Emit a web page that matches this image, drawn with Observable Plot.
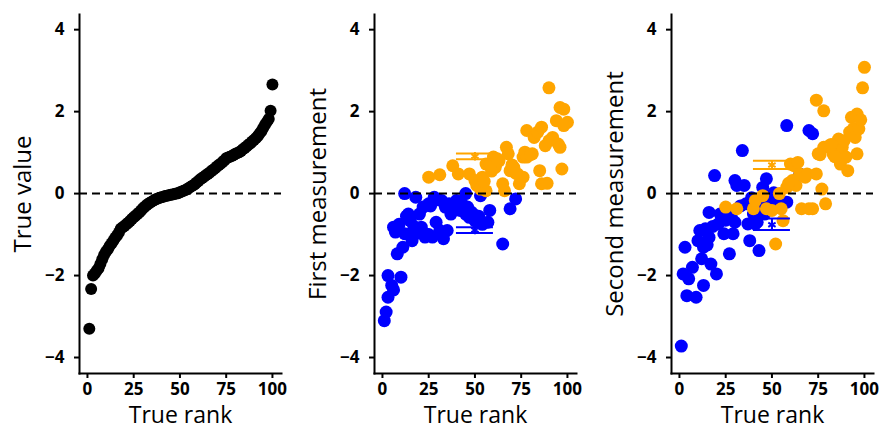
<!DOCTYPE html>
<html><head><meta charset="utf-8">
<script src="https://cdn.jsdelivr.net/npm/d3@7"></script>
<script src="https://cdn.jsdelivr.net/npm/@observablehq/plot@0.6"></script>
<style>
body{margin:0;background:#fff;}
#wrap{display:flex;width:882px;height:429px;overflow:hidden;}
</style></head><body><div id="wrap"></div>
<script>
// Panel 1: sorted true values, rank 1..100
const trueValues = [-3.30,-2.33,-2.00,-1.95,-1.88,-1.82,-1.72,-1.60,-1.50,-1.42,
 -1.36,-1.28,-1.22,-1.15,-1.08,-1.02,-0.95,-0.86,-0.82,-0.79,
 -0.75,-0.71,-0.67,-0.62,-0.58,-0.54,-0.50,-0.46,-0.41,-0.36,
 -0.32,-0.28,-0.25,-0.22,-0.19,-0.16,-0.14,-0.12,-0.10,-0.09,
 -0.08,-0.06,-0.05,-0.04,-0.03,-0.02,-0.01,0.00,0.01,0.03,
 0.05,0.07,0.09,0.11,0.14,0.17,0.20,0.23,0.27,0.31,
 0.35,0.38,0.41,0.45,0.48,0.51,0.55,0.58,0.62,0.66,
 0.70,0.73,0.77,0.81,0.86,0.88,0.90,0.92,0.94,0.97,
 0.99,1.01,1.04,1.08,1.11,1.15,1.19,1.22,1.27,1.31,
 1.35,1.40,1.46,1.52,1.60,1.68,1.75,1.82,2.02,2.66];

// Panel 2: first measurement, [rank, value]
const firstBlue = [[1,-3.10],[2,-2.89],[3,-2.53],[3,-2.0],[5,-2.24],[6,-2.35],[10,-2.04],[8,-1.47],[11,-1.31],[6,-0.82],
 [7,-0.94],[8,-0.90],[12,0.0],[14,-0.50],[15,-0.66],[12,-0.98],[15,-0.98],[16,-1.15],[18,-0.98],[18,-0.09],
 [20,-0.50],[22,-0.33],[21,-0.82],[23,-1.06],[25,-1.0],[25,-0.25],[28,-0.09],[27,-1.06],[29,-0.70],[31,-0.90],
 [33,-1.10],[32,-0.17],[34,-0.33],[36,-0.25],[37,-0.50],[39,-0.29],[40,-0.17],[42,-0.41],[43,-0.25],[45,0.0],
 [45,-0.50],[46,-0.33],[47,-0.58],[49,-0.50],[50,-0.66],[53,-0.05],[57,-0.70],[58,-0.41],[65,-1.23],[69,-0.37],
 [72,-0.13],[44,-0.40],[48,-0.45],[38,-0.40],[30,-0.15],[26,-0.30],[9,-0.75],[13,-0.55],[17,-0.80],[19,-0.85],
 [24,-1.00],[35,-0.90],[52,-0.55],[54,-0.75]];
const firstOrange = [[25,0.40],[31,0.46],[38,0.68],[41,0.48],[47,0.48],[50,0.32],[51,0.20],[54,0.40],[56,0.72],[53,0.11],
 [56,0.07],[58,0.72],[60,0.89],[61,0.64],[63,0.80],[65,0.24],[66,0.07],[67,1.13],[68,0.97],[69,0.56],
 [71,0.64],[73,0.48],[74,0.24],[76,0.40],[76,0.89],[77,1.01],[78,0.89],[81,0.97],[78,1.54],[82,1.37],
 [84,1.50],[85,0.56],[86,1.62],[86,0.24],[89,0.25],[88,1.17],[90,1.29],[90,2.58],[92,1.37],[94,1.78],
 [95,1.21],[96,2.10],[97,0.60],[98,2.06],[100,1.74],[98,1.66],[96,1.13],[55,0.30],[59,0.55],[62,0.85],
 [70,0.70],[72,0.50],[80,0.95]];

// Panel 3: second measurement, [rank, value]
const secondBlue = [[1,-3.72],[3,-1.31],[2,-1.96],[4,-2.49],[5,-2.08],[7,-1.80],[9,-2.53],[10,-1.15],[12,-1.59],[13,-1.31],
 [13,-2.24],[14,-0.86],[16,-1.07],[16,-0.46],[17,-1.72],[19,0.44],[20,-1.96],[21,-0.74],[22,-0.50],[24,-0.98],
 [27,-1.47],[28,-0.58],[29,-0.98],[30,-0.70],[30,0.32],[31,0.20],[34,1.05],[35,0.20],[36,-0.25],[37,-0.74],
 [38,-1.15],[40,-0.50],[41,-0.74],[43,-1.39],[45,0.15],[47,0.36],[48,-0.17],[51,0.02],[53,-0.25],[58,-0.21],
 [58,1.66],[65,0.48],[70,1.54],[72,1.46],[18,-0.80],[23,-0.60],[26,-0.40],[33,-0.30],[39,-0.10],[42,-0.70],
 [44,-0.30],[46,-0.50],[50,-0.35],[25,-0.65],[11,-0.90],[15,-1.25]];
const secondOrange = [[25,-0.33],[31,-0.37],[40,-0.37],[41,-0.17],[47,-0.37],[50,-0.41],[52,-1.23],[54,0.0],[55,-0.37],[56,-0.66],
 [58,0.15],[60,0.72],[61,0.32],[62,0.68],[64,0.76],[63,0.20],[65,0.48],[66,-0.37],[68,0.40],[69,0.48],
 [70,-0.37],[72,-0.37],[74,0.48],[75,0.97],[77,0.11],[74,2.28],[78,2.02],[79,-0.25],[78,1.13],[81,1.17],
 [83,0.97],[85,1.17],[86,1.33],[87,1.01],[87,0.72],[88,1.13],[89,1.29],[90,0.89],[91,0.56],[92,1.50],
 [93,1.86],[94,1.58],[95,1.37],[96,0.97],[96,1.94],[97,1.58],[99,2.58],[100,3.08],[98,1.80],[84,0.90],
 [82,1.20],[76,0.95],[45,-0.05],[59,0.25]];

// Group means with intervals: [lo, mean, hi]
const firstBlueCI = [-0.96, -0.89, -0.82];
const firstOrangeCI = [0.84, 0.91, 0.98];
const secondBlueCI = [-0.89, -0.76, -0.61];
const secondOrangeCI = [0.60, 0.70, 0.80];
const ciRankSpan = [40, 50, 60];

const yTicks = [-4, -2, 0, 2, 4];
const xTicks = [0, 25, 50, 75, 100];
const yLabels = ["True value", "First measurement", "Second measurement"];
const xLabel = "True rank";
const BLUE = "#0000ff", ORANGE = "#ffa500";

function ciMarks(ci, color) {
  const row = [{lo: ci[0], mean: ci[1], hi: ci[2], a: ciRankSpan[0], m: ciRankSpan[1], b: ciRankSpan[2]}];
  return [
    Plot.ruleY(row, {y: "lo", x1: "a", x2: "b", stroke: color, strokeWidth: 2}),
    Plot.ruleY(row, {y: "hi", x1: "a", x2: "b", stroke: color, strokeWidth: 2}),
    Plot.ruleX(row, {x: "m", y1: "lo", y2: "hi", stroke: color, strokeWidth: 2}),
    Plot.dot(row, {x: "m", y: "mean", symbol: "asterisk", r: 4, stroke: color, strokeWidth: 2})
  ];
}

function panel(width, ylabel, layers) {
  return Plot.plot({
    width, height: 429,
    marginLeft: 79, marginRight: width - 79 - 202, marginTop: 14, marginBottom: 56,
    x: {domain: [-4.3, 104.9]},
    y: {domain: [-4.39, 4.37]},
    style: {fontFamily: "'Open Sans', sans-serif", color: "black", background: "white", overflow: "visible"},
    marks: [
      ...layers,
      Plot.ruleY([0], {strokeDasharray: "8,5", strokeWidth: 2, stroke: "black"}),
      Plot.axisY({ticks: yTicks, tickSize: 5, tickPadding: 10, strokeWidth: 2, fontSize: 17, fontWeight: "bold", label: null}),
      Plot.axisX({ticks: xTicks, tickSize: 5, tickPadding: 4, strokeWidth: 2, fontSize: 17, fontWeight: "bold", label: null}),
      Plot.frame({anchor: "left", strokeWidth: 2, stroke: "black"}),
      Plot.frame({anchor: "bottom", strokeWidth: 2, stroke: "black"}),
      Plot.text([ylabel], {frameAnchor: "left", dx: -56, rotate: -90, textAnchor: "middle", lineAnchor: "middle", fontSize: 24, text: d => d, fill: "black"}),
      Plot.text([xLabel], {frameAnchor: "bottom", dy: 42, textAnchor: "middle", lineAnchor: "middle", fontSize: 23, text: d => d, fill: "black"})
    ]
  });
}

const wrap = document.getElementById("wrap");
const p1 = panel(295, yLabels[0], [
  Plot.dot(trueValues.map((v, i) => ({rank: i + 1, v})), {x: "rank", y: "v", r: 6, fill: "black"})
]);
const p2 = panel(297, yLabels[1], [
  Plot.dot(firstBlue, {x: d => d[0], y: d => d[1], r: 6.5, fill: BLUE}),
  Plot.dot(firstOrange, {x: d => d[0], y: d => d[1], r: 6.5, fill: ORANGE}),
  ...ciMarks(firstOrangeCI, ORANGE),
  ...ciMarks(firstBlueCI, BLUE)
]);
const p3 = panel(290, yLabels[2], [
  Plot.dot(secondBlue, {x: d => d[0], y: d => d[1], r: 6.5, fill: BLUE}),
  Plot.dot(secondOrange, {x: d => d[0], y: d => d[1], r: 6.5, fill: ORANGE}),
  ...ciMarks(secondOrangeCI, ORANGE),
  ...ciMarks(secondBlueCI, BLUE)
]);
wrap.append(p1, p2, p3);
</script></body></html>
